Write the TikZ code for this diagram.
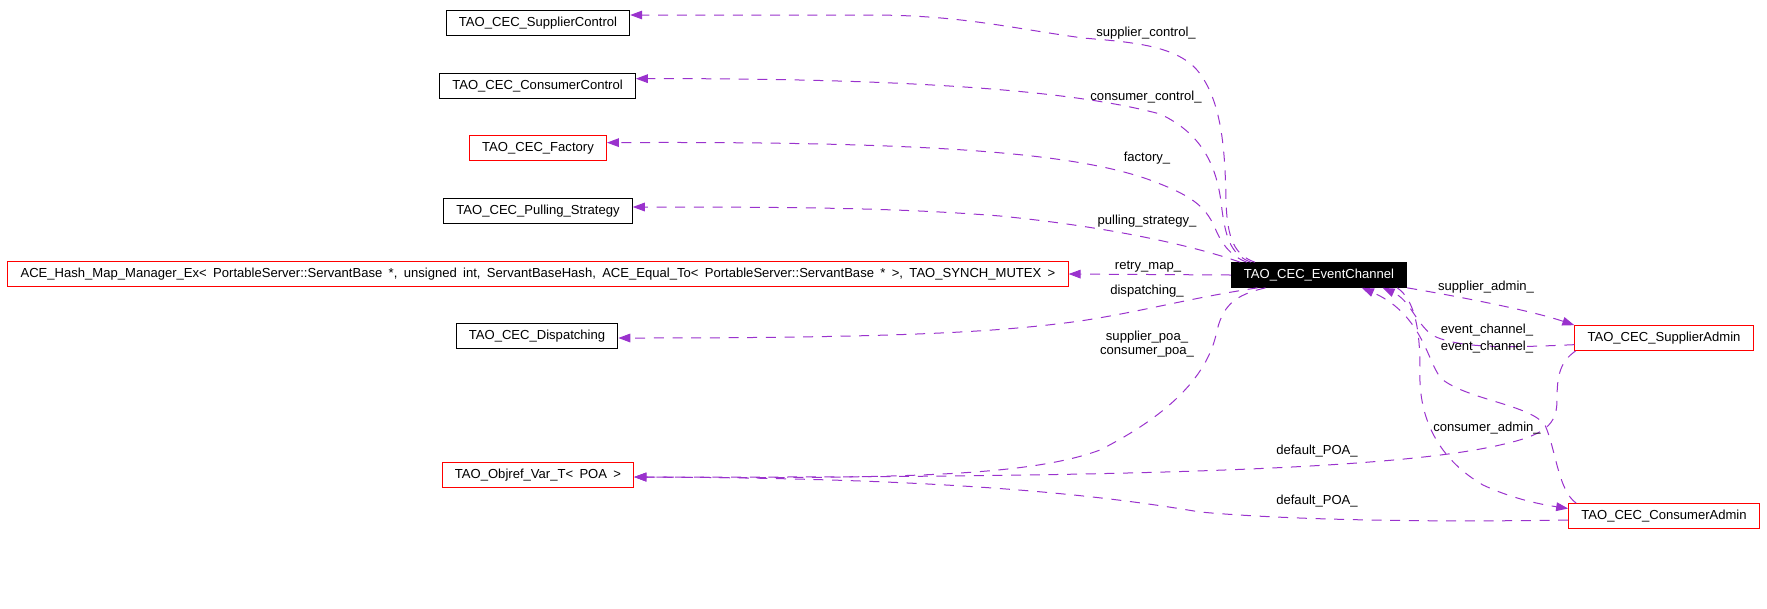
\documentclass[tikz,border=0pt]{standalone}
\usepackage{fontspec}
\setmainfont{Liberation Sans}[WordSpace=1.75]
\usetikzlibrary{arrows.meta}
\definecolor{usageedge}{HTML}{9A32CD}
\definecolor{refcls}{HTML}{FF0000}
\tikzset{
  cls/.style={draw, line width=0.75pt, minimum height=18.5pt, inner xsep=9.5pt,
              inner ysep=0pt, text height=7.2pt, text depth=2.2pt,
              font=\fontsize{9.8}{10.5}\selectfont},
  clsref/.style={cls, draw=refcls},
  clsmain/.style={cls, fill=black, text=white},
  usage/.style={usageedge, line width=0.75pt, dash pattern=on 7.5pt off 6.5pt,
                -{Triangle[length=9pt, width=6.5pt]}},
  usagelabel/.style={font=\fontsize{9.8}{10.5}\selectfont, inner sep=0pt, align=center},
}
\begin{document}
\begin{tikzpicture}[x=0.75pt, y=-0.75pt]
    \useasboundingbox (0, 0) rectangle (1767, 608);
    \node[cls] (supctl) at (538, 23) {TAO\_CEC\_SupplierControl};
    \node[cls] (conctl) at (537.5, 86) {TAO\_CEC\_ConsumerControl};
    \node[clsref] (factory) at (538, 148) {TAO\_CEC\_Factory};
    \node[cls] (pulling) at (538, 211) {TAO\_CEC\_Pulling\_Strategy};
    \node[clsref] (hashmap) at (538, 274) {ACE\_Hash\_Map\_Manager\_Ex< PortableServer::ServantBase *, unsigned int, ServantBaseHash, ACE\_Equal\_To< PortableServer::ServantBase * >, TAO\_SYNCH\_MUTEX >};
    \node[cls] (dispatch) at (537, 336) {TAO\_CEC\_Dispatching};
    \node[clsref] (objref) at (538, 475) {TAO\_Objref\_Var\_T< POA >};
    \node[clsmain] (ec) at (1319, 275) {TAO\_CEC\_EventChannel};
    \node[clsref] (supadmin) at (1664, 338) {TAO\_CEC\_SupplierAdmin};
    \node[clsref] (conadmin) at (1664, 516) {TAO\_CEC\_ConsumerAdmin};

    \draw[usage] ([xshift=18pt]ec.north west) .. controls (1235, 255) and (1227, 240) .. (1226, 200)
      .. controls (1225, 150) and (1222, 100) .. (1197, 70)
      .. controls (1175, 45) and (1130, 42) .. (1083, 38)
      .. controls (1010, 28) and (960, 15) .. (870, 15) -- ([yshift=6pt]supctl.east);
    \draw[usage] ([xshift=15pt]ec.north west) .. controls (1232, 255) and (1226, 240) .. (1222, 210)
      .. controls (1218, 170) and (1205, 135) .. (1160, 114)
      .. controls (1090, 95) and (950, 78) .. ([yshift=5.5pt]conctl.east);
    \draw[usage] ([xshift=12pt]ec.north west) .. controls (1232, 257) and (1222, 245) .. (1215, 228)
      .. controls (1205, 205) and (1190, 195) .. (1150, 180)
      .. controls (1080, 155) and (950, 141) .. ([yshift=4pt]factory.east);
    \draw[usage] ([xshift=7pt]ec.north west) .. controls (1200, 248) and (1120, 228) .. (1000, 216)
      .. controls (900, 208) and (800, 207) .. ([yshift=3pt]pulling.east);
    \draw[usage] (ec.west) -- (hashmap.east);
    \draw[usage] ([xshift=20pt]ec.south west) .. controls (1190, 298) and (1140, 312) .. (1080, 321)
      .. controls (1000, 332) and (900, 338) .. ([yshift=-1.5pt]dispatch.east);
    \draw[usage] ([xshift=26pt]ec.south west) .. controls (1235, 295) and (1222, 305) .. (1216, 335)
      .. controls (1204, 385) and (1155, 422) .. (1100, 450)
      .. controls (1030, 476) and (900, 479) .. ([yshift=-1.5pt]objref.east);
    \draw[usage] ([xshift=1pt]supadmin.south west) .. controls (1560, 362) and (1557, 375) .. (1557, 400)
      .. controls (1557, 425) and (1545, 435) .. (1500, 445)
      .. controls (1400, 468) and (1150, 478) .. ([yshift=-1.5pt]objref.east);
    \draw[usage] ([yshift=-3pt]conadmin.west) .. controls (1450, 522) and (1300, 521) .. (1200, 512)
      .. controls (1100, 495) and (950, 478) .. ([yshift=-1.5pt]objref.east);
    \draw[usage] (ec.south east) .. controls (1450, 295) and (1530, 310) .. (supadmin.north west);
    \draw[usage] ([yshift=-5pt]supadmin.west) .. controls (1520, 347) and (1460, 350) .. (1432, 335)
      .. controls (1415, 322) and (1410, 300) .. ([xshift=-18.5pt]ec.south east);
    \draw[usage] ([xshift=6pt]conadmin.north west) .. controls (1558, 490) and (1556, 450) .. (1545, 425)
      .. controls (1530, 405) and (1470, 400) .. (1443, 380)
      .. controls (1428, 368) and (1425, 315) .. ([xshift=-34pt]ec.south east);
    \draw[usage] ([xshift=-7.5pt]ec.south east) .. controls (1415, 300) and (1420, 330) .. (1420, 370)
      .. controls (1418, 420) and (1440, 460) .. (1483, 485)
      .. controls (1515, 500) and (1545, 505) .. ([yshift=-4pt]conadmin.north west);

    \node[usagelabel] (lsupctl) at (1146, 33) {supplier\_control\_};
    \node[usagelabel] (lconctl) at (1146, 97) {consumer\_control\_};
    \node[usagelabel] (lfactory) at (1147, 158) {factory\_};
    \node[usagelabel] (lpulling) at (1147, 221) {pulling\_strategy\_};
    \node[usagelabel] (lretry) at (1148, 267) {retry\_map\_};
    \node[usagelabel] (ldispatch) at (1147, 291) {dispatching\_};
    \node[usagelabel] (lpoa) at (1147, 344) {supplier\_poa\_\\consumer\_poa\_};
    \node[usagelabel] (lsupadmin) at (1486, 287) {supplier\_admin\_};
    \node[usagelabel] (levsup) at (1487, 330) {event\_channel\_};
    \node[usagelabel] (levcon) at (1487, 347) {event\_channel\_};
    \node[usagelabel] (lconadmin) at (1487, 428) {consumer\_admin\_};
    \node[usagelabel] (lpoasup) at (1317, 451) {default\_POA\_};
    \node[usagelabel] (lpoacon) at (1317, 501) {default\_POA\_};
  \end{tikzpicture}
\end{document}
